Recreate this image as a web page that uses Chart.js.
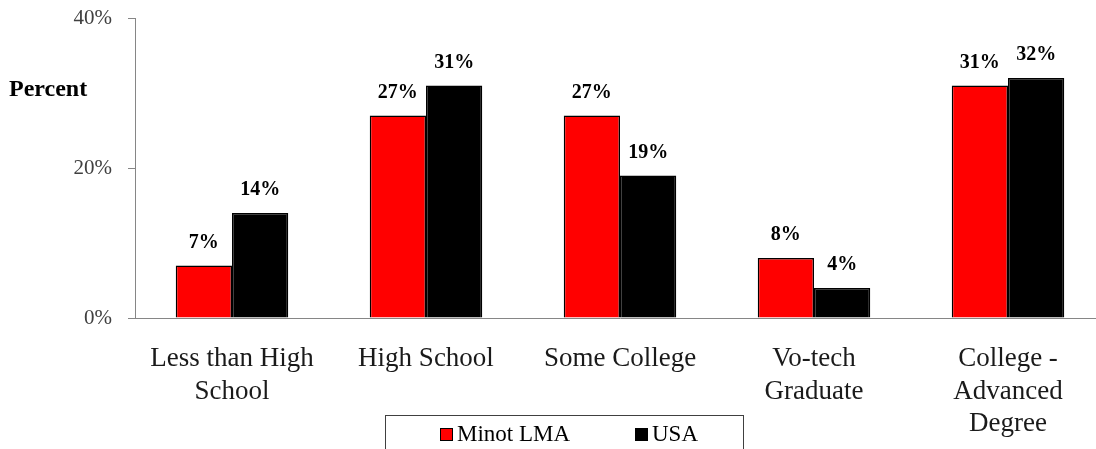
<!DOCTYPE html>
<html>
<head>
<meta charset="utf-8">
<script src="https://cdn.jsdelivr.net/npm/chart.js@4/dist/chart.umd.min.js"></script>
<style>
html,body{margin:0;padding:0;background:#fff;overflow:hidden;width:1096px;height:449px;}
#wrap{position:relative;width:1106px;height:449px;}
canvas{display:block;}
#legend{position:absolute;left:385px;top:415px;width:359px;height:40px;border:1px solid #404040;box-sizing:border-box;font-family:'Liberation Serif',serif;font-size:23px;color:#000;}
.item{position:absolute;top:5px;display:flex;align-items:center;line-height:26px;}
.sw{width:11px;height:11px;border:1.5px solid #000;margin-right:4px;}
</style>
</head>
<body>
<div id="wrap">
<canvas id="c" width="1106" height="449"></canvas>
<div id="legend">
  <div class="item" style="left:54px;"><span class="sw" style="background:#ff0000"></span>Minot LMA</div>
  <div class="item" style="left:249px;"><span class="sw" style="background:#000"></span>USA</div>
</div>
</div>
<script>
const categories = [["Less than High","School"],["High School"],["Some College"],["Vo-tech","Graduate"],["College -","Advanced","Degree"]];
const minotValues = [7, 27, 27, 8, 31];
const usaValues = [14, 31, 19, 4, 32];
const yTicks = [0, 20, 40];
const seriesNames = ["Minot LMA", "USA"];

const FONT = "'Liberation Serif', serif";

const labelPlugin = {
  id: 'labels',
  afterDatasetsDraw(chart) {
    const ctx = chart.ctx;
    ctx.save();
    ctx.fillStyle = '#000';
    ctx.font = 'bold 20px ' + FONT;
    ctx.textAlign = 'center';
    ctx.textBaseline = 'middle';
    chart.data.datasets.forEach((ds, i) => {
      chart.getDatasetMeta(i).data.forEach((el, j) => {
        ctx.fillText(ds.data[j] + '%', el.x, el.y - 23);
      });
    });
    ctx.font = 'bold 24px ' + FONT;
    ctx.textAlign = 'left';
    ctx.fillText('Percent', 9, 90);
    ctx.restore();
  }
};

new Chart(document.getElementById('c'), {
  type: 'bar',
  data: {
    labels: categories,
    datasets: [
      { label: seriesNames[0], data: minotValues, backgroundColor: '#ff0000', borderColor: '#000', borderWidth: 1.5, categoryPercentage: 0.58, barPercentage: 1.0 },
      { label: seriesNames[1], data: usaValues, backgroundColor: '#000', borderColor: '#000', borderWidth: 1.5, categoryPercentage: 0.58, barPercentage: 1.0 }
    ]
  },
  options: {
    responsive: false,
    animation: false,
    layout: { padding: { top: 18, right: 1, left: 0, bottom: 0 } },
    plugins: { legend: { display: false }, tooltip: { enabled: false } },
    scales: {
      x: {
        grid: { display: false, drawTicks: false },
        border: { display: true, color: '#868686', width: 1 },
        ticks: { color: '#1a1a1a', font: { family: FONT, size: 27, lineHeight: 1.22 }, padding: 24, maxRotation: 0, autoSkip: false },
        afterFit(s) { s.height = 131; }
      },
      y: {
        min: 0, max: 40,
        afterBuildTicks(s) { s.ticks = yTicks.map(v => ({ value: v })); },
        grid: { display: true, drawOnChartArea: false, drawTicks: true, tickLength: 7, color: '#868686' },
        border: { display: true, color: '#868686', width: 1 },
        ticks: { color: '#404040', font: { family: FONT, size: 21 }, padding: 16, callback: v => v + '%' },
        afterFit(s) { s.width = 135; s.paddingTop = 0; s.paddingBottom = 0; }
      }
    }
  },
  plugins: [labelPlugin]
});
</script>
</body>
</html>
